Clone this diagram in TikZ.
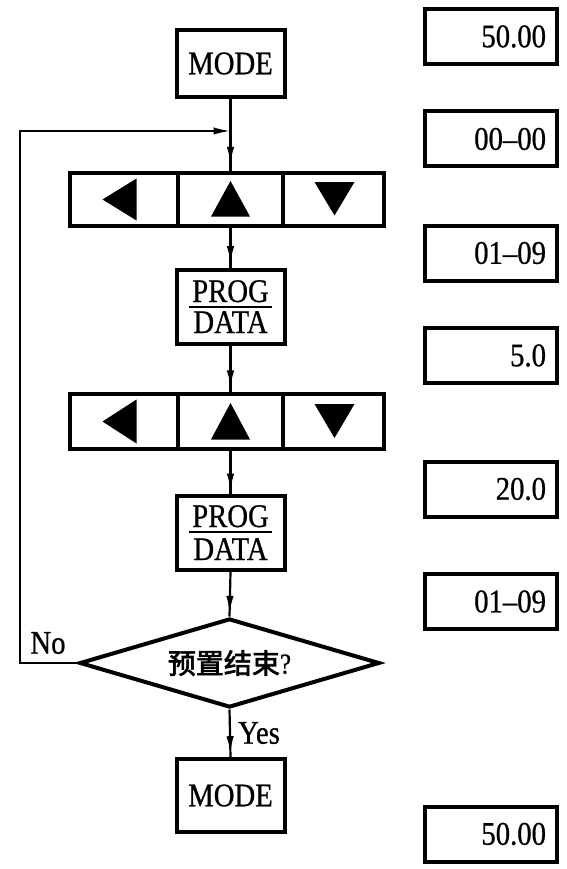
\documentclass[tikz,border=0pt]{standalone}
\usepackage{fontspec}
\setmainfont{Liberation Serif}[FakeStretch=0.87,FakeBold=0.7]
\newfontfamily\cjk{Noto Sans CJK SC}[FakeBold=2.5]
\usetikzlibrary{arrows.meta,shapes.geometric,decorations.markings}
\begin{document}
\begin{tikzpicture}[x=1pt,y=-1pt,
  every node/.style={font=\fontsize{33}{36}\selectfont, inner sep=0pt},
  box/.style={draw, line width=4pt, minimum width=108pt, minimum height=67pt},
  cell/.style={draw, line width=4pt},
  val/.style={draw, line width=4pt, inner xsep=11pt, text width=110pt, align=right, minimum height=55pt},
  conn/.style={line width=2.2pt},
  tip/.tip={Latex[length=17pt,width=7.5pt]},
  tipmark/.style={postaction={decorate}, decoration={markings, mark=at position #1 with {\arrow{tip}}}},
]
\useasboundingbox (0,0) rectangle (566,869);

% ---------- main column ----------
\node[box] (mode1) at (230.5,63.5) {MODE};
\coordinate (j) at (230.5,131);

% bar 1
\node[cell, minimum width=108pt, minimum height=53pt] (b1l) at (124,199.5) {};
\node[cell, minimum width=105pt, minimum height=53pt] (b1m) at (230.5,199.5) {};
\node[cell, minimum width=101pt, minimum height=53pt] (b1r) at (333.5,199.5) {};
\fill[shift={(b1l.center)}] (-21.5,0) -- (12.5,-21) -- (12.5,21) -- cycle;
\fill[shift={(b1m.center)}] (0,-18.5) -- (19.5,17) -- (-19.5,17) -- cycle;
\fill[shift={(b1r.center)}] (-19,-17.5) -- (21,-17.5) -- (1,16) -- cycle;

% PROG/DATA 1
\node[box, minimum height=74pt] (prog1) at (230.5,307) {};
\node[anchor=base] (prog1t) at (230.5,302) {PROG};
\node[anchor=base] (prog1b) at (230.5,333) {DATA};
\draw[line width=2pt] (189,307) -- (272,307);

% bar 2
\node[cell, minimum width=108pt, minimum height=55pt] (b2l) at (124,421.5) {};
\node[cell, minimum width=105pt, minimum height=55pt] (b2m) at (230.5,421.5) {};
\node[cell, minimum width=101pt, minimum height=55pt] (b2r) at (333.5,421.5) {};
\fill[shift={(b2l.center)}] (-21.5,0) -- (12.5,-22) -- (12.5,22) -- cycle;
\fill[shift={(b2m.center)}] (0,-18.5) -- (19.5,18) -- (-19.5,18) -- cycle;
\fill[shift={(b2r.center)}] (-19,-17.5) -- (21,-17.5) -- (1,16.5) -- cycle;

% PROG/DATA 2
\node[box, minimum height=74pt] (prog2) at (230.5,533) {};
\node[anchor=base] (prog2t) at (230.5,527) {PROG};
\node[anchor=base] (prog2b) at (230.5,560) {DATA};
\draw[line width=2pt] (189,532) -- (272,532);

% decision
\node[draw, diamond, line width=4pt, aspect=3.37, minimum width=300pt, minimum height=89pt] (dec) at (229.5,663)
  {{\fontsize{28}{30}\selectfont\cjk 预置结束}{\fontsize{29}{30}\selectfont ?}};

% MODE 2
\node[box, minimum height=73pt] (mode2) at (230.5,795.5) {MODE};

% labels
\node (no) at (48,643) {No};
\node (yes) at (259,733) {Yes};

% connectors
\draw[conn] (mode1.south) -- (j);
\draw[conn, tipmark=0.82] (j) -- (b1m.north);
\draw[conn, tipmark=0.88] (b1m.south) -- (prog1.north);
\draw[conn, tipmark=0.9] (prog1.south) -- (b2m.north);
\draw[conn, tipmark=0.92] (b2m.south) -- (prog2.north);
\draw[conn, tipmark=0.92] (prog2.south) -- (dec.north);
\draw[conn, tipmark=0.92] (dec.south) -- (mode2.north);
\coordinate (lc) at (20,663);
\draw[conn, -{tip}] (dec.west) -- (lc) |- (j);

% ---------- display values ----------
\node[val] (v1) at (491,36.5) {50.00};
\node[val] (v2) at (491,139) {00–00};
\node[val] (v3) at (491,253) {01–09};
\node[val] (v4) at (491,355.5) {5.0};
\node[val] (v5) at (491,489) {20.0};
\node[val] (v6) at (491,601.5) {01–09};
\node[val] (v7) at (491,834) {50.00};
\end{tikzpicture}
\end{document}
